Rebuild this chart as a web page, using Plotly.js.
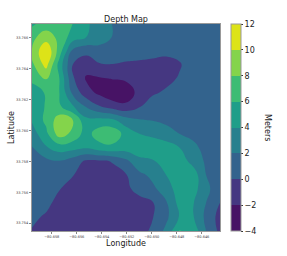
<!DOCTYPE html>
<html><head><meta charset="utf-8">
<script src="https://cdn.plot.ly/plotly-3.0.1.min.js"></script>
<style>html,body{margin:0;padding:0;background:#fff}</style></head><body>
<div id="c" style="width:287px;height:256px"></div>
<script>
const lons = [-80.6596,-80.65845,-80.65739,-80.65632,-80.65525,-80.65419,-80.65312,-80.65205,-80.65099,-80.64992,-80.64885,-80.64779,-80.64672,-80.64565,-80.6445];
const lats = [33.76691,33.76602,33.76513,33.76424,33.76335,33.76246,33.76157,33.76068,33.75979,33.75890,33.75801,33.75712,33.75623,33.75534,33.75445,33.7535];
const depth = [
 [5.5,7,7,6,4.3,3.2,1.9,1.6,1.5,1.5,1.5,1.5,1.5,1.5,1.5],
 [7.5,9,7.5,5,4,3,1.9,1.6,1.5,1.5,1.5,1.5,1.5,1.5,1.5],
 [8,12,7,1.5,0.6,1.2,1.5,1.3,1,0.8,0.6,0.6,1.5,1.5,1.5],
 [7.5,10.7,5.2,0,-1.3,-0.2,-0.1,-0.4,-0.5,-0.7,-0.9,-0.2,1,1.5,1.5],
 [6.5,8.1,6,0.3,-2.2,-2.2,-1.9,-1.6,-1.3,-1,-0.6,0.2,1.5,1.5,1.5],
 [5,6.2,6,1.5,-1.2,-2.5,-3.5,-3.4,-1.2,-0.3,0.3,1,1.5,1.5,1.5],
 [4.5,6.2,6.3,4.2,1.8,0.1,-1,-1.5,-0.2,1,1.3,1.5,1.5,1.5,1.5],
 [4.2,6.5,9,8,4.5,4.5,4.3,2.8,2.1,1.9,1.7,1.5,1.5,1.5,1.5],
 [3,5.5,9,7.5,5.1,7.2,7.4,5.2,4,3.5,2.5,2,1.6,1.5,1.5],
 [1.9,3.8,5,4.8,4.3,5.2,5.5,5,5.1,5.3,5.2,4,2.4,1.5,1.5],
 [1.2,1.5,1.9,1,-0.3,-0.3,0.1,1.5,3.5,3.8,5,5.2,3.3,1.7,1.5],
 [1,0.9,0.8,0.1,-1,-1,-0.5,-0.1,1.5,2.5,4,5.5,5.2,2,1.5],
 [0.9,0.6,0.1,-1,-1,-1,-1,-0.3,0.5,1.6,3,5,5.1,2.2,1.5],
 [0.7,0.5,-0.6,-1,-1,-1,-1,-1,-0.5,-0.1,1.8,4.7,4.2,2,-0.1],
 [0.4,-0.2,-1,-1,-1,-1,-1,-1,-1,-0.1,1.5,4.1,4.2,1.5,-0.8],
 [-0.1,-1,-1,-1,-1,-1,-1,-1,-1,0.5,2.5,6.1,5.5,2,-0.6]
];
const xTicks=[-80.658,-80.656,-80.654,-80.652,-80.650,-80.648,-80.646];
const yTicks=[33.754,33.756,33.758,33.760,33.762,33.764,33.766];
const colors=['#471365','#453781','#33638d','#27808e','#1f9e89','#3dbc74','#84d44b','#dde318'];
const n=colors.length, cs=[];
colors.forEach((c,i)=>{cs.push([i/n,c]);cs.push([(i+1)/n,c]);});
Plotly.newPlot('c',[{type:'contour',x:lons,y:lats,z:depth,zmin:-4,zmax:12,
 autocontour:false,contours:{start:-4,end:12,size:2,coloring:'fill',showlines:false},
 line:{width:0,smoothing:1.3},colorscale:cs,
 colorbar:{x:1.058,xanchor:'left',xpad:0,ypad:0,y:0,yanchor:'bottom',len:1,lenmode:'fraction',
  thickness:10,thicknessmode:'pixels',tickvals:[-4,-2,0,2,4,6,8,10,12],ticktext:['−4','−2','0','2','4','6','8','10','12'],
  ticks:'outside',ticklen:2,tickcolor:'#333',tickfont:{size:8,color:'#222',family:'DejaVu Sans'},outlinewidth:1,outlinecolor:'#999'}}],
 {width:287,height:256,margin:{l:32,r:67,t:24,b:25},paper_bgcolor:'#fff',plot_bgcolor:'#fff',showlegend:false,
  font:{family:'DejaVu Sans'},
  title:{text:'Depth Map',x:126/287,xanchor:'center',y:1-19/256,yanchor:'middle',font:{size:8,color:'#222'}},
  annotations:[{text:'Meters',xref:'paper',yref:'paper',x:(267.5-32)/188,y:(231-127.5)/207,xanchor:'center',yanchor:'middle',textangle:90,showarrow:false,font:{size:8,color:'#222'}}],
  xaxis:{range:[-80.65958,-80.64454],tickvals:xTicks,ticktext:xTicks.map(v=>'−'+Math.abs(v).toFixed(3)),ticks:'outside',ticklen:2,tickwidth:0.6,tickcolor:'#333',tickfont:{size:3.5,color:'#333'},showgrid:false,zeroline:false,
   title:{text:'Longitude',font:{size:8,color:'#222'},standoff:0},linecolor:'#999',linewidth:1,mirror:true,showline:true},
  yaxis:{range:[33.7535,33.76688],tickvals:yTicks,ticktext:yTicks.map(v=>v.toFixed(3)),ticks:'outside',ticklen:2,tickwidth:0.6,tickcolor:'#333',tickfont:{size:3.5,color:'#333'},showgrid:false,zeroline:false,
   title:{text:'Latitude',font:{size:8,color:'#222'},standoff:0},linecolor:'#999',linewidth:1,mirror:true,showline:true}
 },{displayModeBar:false,staticPlot:true});
</script></body></html>
